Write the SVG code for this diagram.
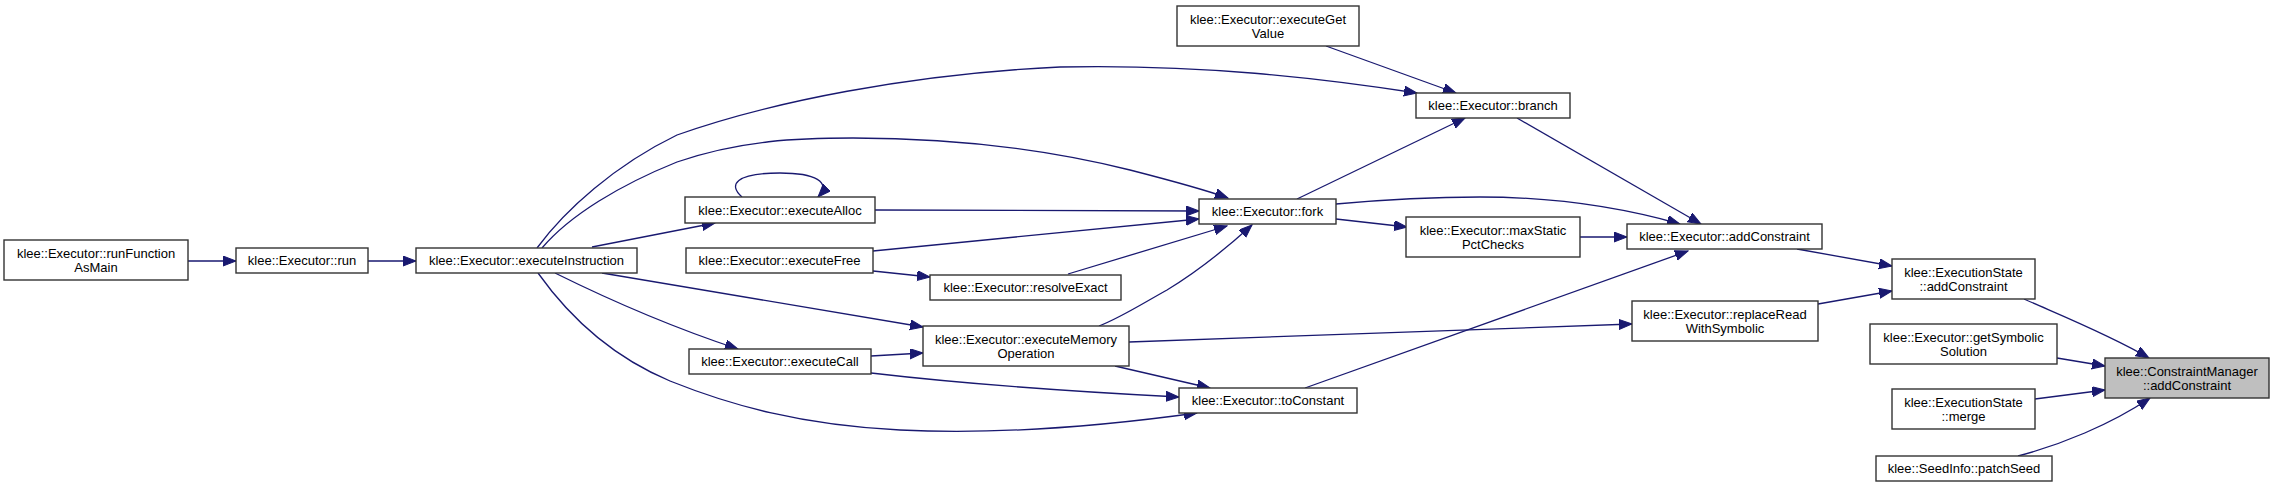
<svg xmlns="http://www.w3.org/2000/svg" width="2275" height="487" viewBox="0 0 2275 487">
<style>
.n rect{fill:#ffffff;stroke:#333333;stroke-width:1.4}
.n.f rect{fill:#bfbfbf}
.n text{font-family:"Liberation Sans",Arial,Helvetica,sans-serif;font-size:13px;fill:#000000;text-anchor:middle}
.e path{fill:none;stroke:#191970;stroke-width:1.3;marker-end:url(#ah)}
</style>
<defs>
<marker id="ah" markerUnits="userSpaceOnUse" markerWidth="14" markerHeight="11" refX="13" refY="5" orient="auto" viewBox="0 0 14 11">
<path d="M0,0 L13,5 L0,10 z" fill="#191970" stroke="#191970" stroke-width="1"/>
</marker>
</defs>
<rect x="0" y="0" width="2275" height="487" fill="#ffffff"/>
<g id="edges" class="e">
<path d="M188,261 L236,261"/>
<path d="M368,261 L416,261"/>
<path d="M537,248 C565,210 615,165 677,135 C770,102 910,74 1060,67 C1200,64 1320,78 1417,93"/>
<path d="M542,248 C570,215 620,185 677,162 C740,140 800,138 853,138 C960,138 1050,150 1130,170 C1165,179 1200,188 1228,198"/>
<path d="M592,247 L715,223"/>
<path d="M742,197 C728,185 735,173 780,173 C815,173 832,182 818,197"/>
<path d="M875,210 L1199,211"/>
<path d="M873,251 L1199,219"/>
<path d="M873,271 L930,277"/>
<path d="M1068,274 L1227,226"/>
<path d="M602,273 L923,327"/>
<path d="M555,273 Q650,320 738,349"/>
<path d="M538,273 C575,325 620,360 670,381 C730,405 800,425 900,430 C1000,435 1110,425 1197,413"/>
<path d="M871,356 L923,353"/>
<path d="M871,373 Q1000,388 1179,397"/>
<path d="M1099,326 C1120,318 1140,305 1167,290 C1200,270 1230,245 1252,225"/>
<path d="M1115,366 L1210,388"/>
<path d="M1129,342 L1632,324"/>
<path d="M1297,199 L1465,118"/>
<path d="M1326,46 L1456,93"/>
<path d="M1517,118 L1701,224"/>
<path d="M1336,204 C1380,200 1430,197 1480,197 C1550,197 1620,207 1680,224"/>
<path d="M1336,219 L1407,227"/>
<path d="M1580,237 L1627,237"/>
<path d="M1305,388 L1688,251"/>
<path d="M1797,249 L1892,266"/>
<path d="M1818,304 L1892,291"/>
<path d="M2024,299 C2060,315 2110,335 2149,358"/>
<path d="M2057,358 L2105,366"/>
<path d="M2035,399 L2105,390"/>
<path d="M2018,456 C2060,445 2110,425 2150,398"/>
</g>
<g id="n_runFunctionAsMain" class="n"><rect x="4" y="240" width="184" height="40"/><text x="96" y="257.5">klee::Executor::runFunction</text><text x="96" y="271.5">AsMain</text></g>
<g id="n_run" class="n"><rect x="236" y="248" width="132" height="25"/><text x="302" y="265">klee::Executor::run</text></g>
<g id="n_executeInstruction" class="n"><rect x="416" y="248" width="221" height="25"/><text x="526.5" y="265">klee::Executor::executeInstruction</text></g>
<g id="n_executeAlloc" class="n"><rect x="685" y="197" width="190" height="26"/><text x="780" y="214.5">klee::Executor::executeAlloc</text></g>
<g id="n_executeFree" class="n"><rect x="686" y="248" width="187" height="25"/><text x="779.5" y="265">klee::Executor::executeFree</text></g>
<g id="n_resolveExact" class="n"><rect x="930" y="275" width="191" height="25"/><text x="1025.5" y="292">klee::Executor::resolveExact</text></g>
<g id="n_executeMemoryOperation" class="n"><rect x="923" y="326" width="206" height="40"/><text x="1026" y="343.5">klee::Executor::executeMemory</text><text x="1026" y="357.5">Operation</text></g>
<g id="n_executeCall" class="n"><rect x="689" y="349" width="182" height="25"/><text x="780" y="366">klee::Executor::executeCall</text></g>
<g id="n_fork" class="n"><rect x="1199" y="199" width="137" height="25"/><text x="1267.5" y="216">klee::Executor::fork</text></g>
<g id="n_toConstant" class="n"><rect x="1179" y="388" width="178" height="25"/><text x="1268" y="405">klee::Executor::toConstant</text></g>
<g id="n_executeGetValue" class="n"><rect x="1177" y="6" width="182" height="40"/><text x="1268" y="23.5">klee::Executor::executeGet</text><text x="1268" y="37.5">Value</text></g>
<g id="n_branch" class="n"><rect x="1416" y="93" width="154" height="25"/><text x="1493" y="110">klee::Executor::branch</text></g>
<g id="n_maxStaticPctChecks" class="n"><rect x="1406" y="217" width="174" height="40"/><text x="1493" y="234.5">klee::Executor::maxStatic</text><text x="1493" y="248.5">PctChecks</text></g>
<g id="n_Executor_addConstraint" class="n"><rect x="1627" y="224" width="195" height="25"/><text x="1724.5" y="241">klee::Executor::addConstraint</text></g>
<g id="n_replaceReadWithSymbolic" class="n"><rect x="1632" y="301" width="186" height="40"/><text x="1725" y="318.5">klee::Executor::replaceRead</text><text x="1725" y="332.5">WithSymbolic</text></g>
<g id="n_ExecutionState_addConstraint" class="n"><rect x="1892" y="259" width="143" height="40"/><text x="1963.5" y="276.5">klee::ExecutionState</text><text x="1963.5" y="290.5">::addConstraint</text></g>
<g id="n_getSymbolicSolution" class="n"><rect x="1870" y="324" width="187" height="40"/><text x="1963.5" y="341.5">klee::Executor::getSymbolic</text><text x="1963.5" y="355.5">Solution</text></g>
<g id="n_ConstraintManager_addConstraint" class="n f"><rect x="2105" y="358" width="164" height="40"/><text x="2187" y="375.5">klee::ConstraintManager</text><text x="2187" y="389.5">::addConstraint</text></g>
<g id="n_ExecutionState_merge" class="n"><rect x="1892" y="389" width="143" height="40"/><text x="1963.5" y="406.5">klee::ExecutionState</text><text x="1963.5" y="420.5">::merge</text></g>
<g id="n_SeedInfo_patchSeed" class="n"><rect x="1876" y="456" width="176" height="25"/><text x="1964" y="473">klee::SeedInfo::patchSeed</text></g>
</svg>
